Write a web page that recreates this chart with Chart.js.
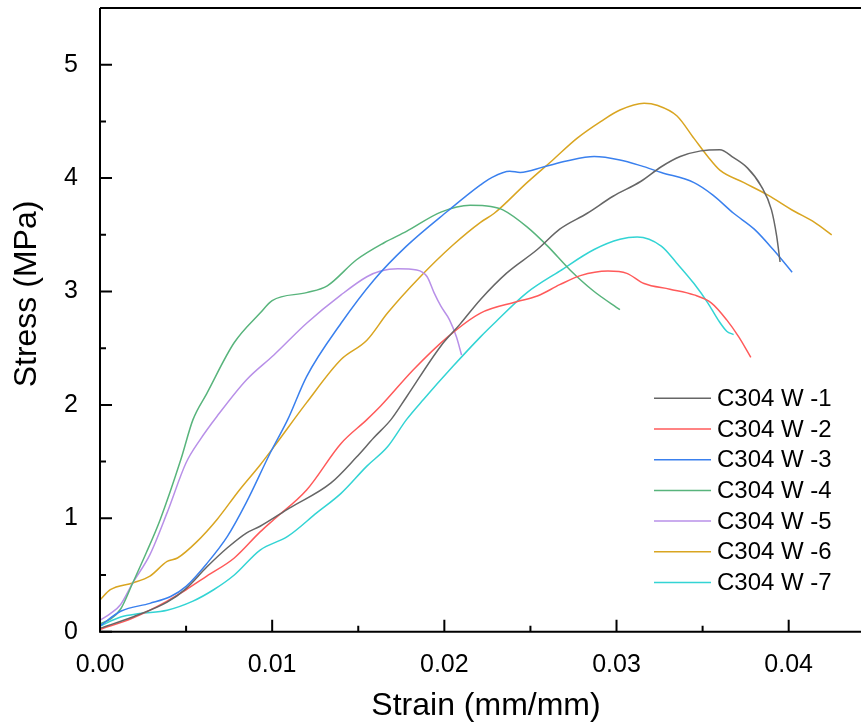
<!DOCTYPE html>
<html>
<head>
<meta charset="utf-8">
<title>Stress-strain C304 W</title>
<script src="https://cdn.jsdelivr.net/npm/chart.js@4.4.1/dist/chart.umd.min.js"></script>
<style>
  html, body { margin: 0; padding: 0; background: #fff; }
  #wrap { width: 861px; height: 724px; }
</style>
</head>
<body>
<div id="wrap"><canvas id="chart" width="861" height="724"></canvas></div>
<script>
// valeurs (strain en mm/mm, stress en MPa)
const seriesNames = ['C304 W -1', 'C304 W -2', 'C304 W -3', 'C304 W -4', 'C304 W -5', 'C304 W -6', 'C304 W -7'];
const seriesColors = ['#666666', '#ff5a5a', '#3a80ee', '#58b47c', '#b890e8', '#d9a521', '#33d4d4'];

const w1Strain = [0, 0.0019, 0.0039, 0.005, 0.0062, 0.0074, 0.0085, 0.0093, 0.011, 0.0134, 0.0149, 0.0159, 0.0169, 0.0178, 0.0198, 0.0209, 0.0221, 0.0236, 0.0254, 0.0267, 0.0283, 0.0298, 0.0314, 0.0326, 0.0337, 0.0349, 0.036, 0.0368, 0.0376, 0.0384, 0.039, 0.0393, 0.0395];
const w1Stress = [0.03, 0.13, 0.26, 0.38, 0.57, 0.74, 0.87, 0.93, 1.09, 1.31, 1.54, 1.71, 1.87, 2.07, 2.52, 2.71, 2.93, 3.16, 3.37, 3.55, 3.69, 3.84, 3.97, 4.10, 4.19, 4.24, 4.25, 4.18, 4.09, 3.93, 3.72, 3.49, 3.26];

const w2Strain = [0, 0.0019, 0.0039, 0.005, 0.0062, 0.0078, 0.0093, 0.0101, 0.012, 0.014, 0.0155, 0.0163, 0.0182, 0.0202, 0.0221, 0.0242, 0.0254, 0.0267, 0.0279, 0.0295, 0.0306, 0.0316, 0.0331, 0.0345, 0.0355, 0.0364, 0.0371, 0.0378];
const w2Stress = [0.02, 0.12, 0.27, 0.37, 0.49, 0.65, 0.88, 0.99, 1.25, 1.66, 1.87, 1.99, 2.31, 2.60, 2.81, 2.91, 2.96, 3.06, 3.14, 3.18, 3.16, 3.07, 3.02, 2.97, 2.90, 2.75, 2.60, 2.42];

const w3Strain = [0, 0.0012, 0.0029, 0.0041, 0.005, 0.0062, 0.0074, 0.0085, 0.0099, 0.0109, 0.012, 0.014, 0.0159, 0.0178, 0.0202, 0.0221, 0.0227, 0.0238, 0.0244, 0.0258, 0.0271, 0.0287, 0.0302, 0.0314, 0.0326, 0.0345, 0.0356, 0.0368, 0.038, 0.0391, 0.0402];
const w3Stress = [0.05, 0.18, 0.25, 0.31, 0.40, 0.60, 0.84, 1.14, 1.58, 1.87, 2.25, 2.72, 3.10, 3.40, 3.71, 3.94, 4.00, 4.06, 4.05, 4.10, 4.15, 4.19, 4.16, 4.11, 4.05, 3.96, 3.85, 3.69, 3.55, 3.37, 3.17];

const w4Strain = [0, 0.0006, 0.0012, 0.0019, 0.0027, 0.0035, 0.0047, 0.0054, 0.0062, 0.0078, 0.0093, 0.01, 0.012, 0.0132, 0.0149, 0.0165, 0.0178, 0.0198, 0.0215, 0.0227, 0.0234, 0.0248, 0.026, 0.0273, 0.0287, 0.0302];
const w4Stress = [0.07, 0.11, 0.2, 0.43, 0.7, 0.99, 1.52, 1.87, 2.1, 2.55, 2.81, 2.92, 2.99, 3.05, 3.28, 3.43, 3.53, 3.70, 3.76, 3.75, 3.72, 3.57, 3.40, 3.19, 3.0, 2.84];

const w5Strain = [0, 0.0006, 0.0012, 0.0019, 0.0029, 0.0039, 0.005, 0.0058, 0.0068, 0.0085, 0.0101, 0.012, 0.014, 0.0155, 0.0163, 0.0173, 0.0184, 0.019, 0.0194, 0.0198, 0.0203, 0.0207, 0.021];
const w5Stress = [0.1, 0.16, 0.24, 0.43, 0.68, 1.05, 1.49, 1.69, 1.9, 2.22, 2.44, 2.72, 2.97, 3.13, 3.18, 3.20, 3.19, 3.13, 2.99, 2.87, 2.75, 2.60, 2.44];

const w6Strain = [0, 0.0006, 0.0019, 0.0029, 0.0039, 0.0045, 0.0056, 0.0068, 0.0081, 0.0093, 0.0101, 0.012, 0.014, 0.0155, 0.0167, 0.0186, 0.0205, 0.0221, 0.0229, 0.0248, 0.0263, 0.0277, 0.0291, 0.0302, 0.0316, 0.0324, 0.0335, 0.0345, 0.0353, 0.036, 0.0374, 0.0388, 0.0403, 0.0415, 0.0425];
const w6Stress = [0.28, 0.37, 0.43, 0.49, 0.62, 0.65, 0.79, 0.99, 1.25, 1.47, 1.63, 2.02, 2.40, 2.57, 2.81, 3.13, 3.41, 3.61, 3.69, 3.96, 4.16, 4.35, 4.50, 4.60, 4.66, 4.64, 4.55, 4.35, 4.19, 4.07, 3.96, 3.85, 3.71, 3.61, 3.50];

const w7Strain = [0, 0.0012, 0.0023, 0.0039, 0.0054, 0.0066, 0.0078, 0.0093, 0.0109, 0.0126, 0.014, 0.0155, 0.0167, 0.0178, 0.0188, 0.0205, 0.0221, 0.0229, 0.0248, 0.0267, 0.0287, 0.0302, 0.0312, 0.0326, 0.0335, 0.0345, 0.0353, 0.0359, 0.0364, 0.0368];
const w7Stress = [0.05, 0.13, 0.16, 0.19, 0.27, 0.37, 0.50, 0.72, 0.84, 1.05, 1.22, 1.46, 1.63, 1.87, 2.05, 2.34, 2.60, 2.72, 2.99, 3.18, 3.37, 3.46, 3.48, 3.40, 3.25, 3.07, 2.90, 2.75, 2.65, 2.62];

const xTicks = [0, 0.01, 0.02, 0.03, 0.04];
const yTicks = [0, 1, 2, 3, 4, 5];
const xMinorStep = 0.005;
const yMinorStep = 0.5;

const FONT = '"Liberation Sans", Arial, sans-serif';

const strains = [w1Strain, w2Strain, w3Strain, w4Strain, w5Strain, w6Strain, w7Strain];
const stresses = [w1Stress, w2Stress, w3Stress, w4Stress, w5Stress, w6Stress, w7Stress];

const datasets = seriesNames.map((name, i) => ({
  label: name,
  data: strains[i].map((x, j) => ({ x: x, y: stresses[i][j] })),
  borderColor: seriesColors[i],
  backgroundColor: seriesColors[i],
  borderWidth: 1.5,
  pointRadius: 0,
  showLine: true,
  fill: false,
  cubicInterpolationMode: 'monotone'
}));

// cadre, graduations vers l'intérieur, titres d'axes et légende
const framePlugin = {
  id: 'frame',
  afterDraw(chart) {
    const ctx = chart.ctx;
    const a = chart.chartArea;
    const xs = chart.scales.x;
    const ys = chart.scales.y;
    ctx.save();
    ctx.strokeStyle = '#000';
    ctx.lineWidth = 2;
    ctx.beginPath();
    ctx.moveTo(a.left, a.top);
    ctx.lineTo(chart.width, a.top);
    ctx.moveTo(a.left, a.top);
    ctx.lineTo(a.left, a.bottom);
    ctx.lineTo(chart.width, a.bottom);
    ctx.stroke();

    // ticks x
    ctx.beginPath();
    for (let k = 0; k * xMinorStep <= xs.max + 1e-9; k++) {
      const px = xs.getPixelForValue(k * xMinorStep);
      const len = k % 2 === 0 ? 12 : 6;
      ctx.moveTo(px, a.bottom);
      ctx.lineTo(px, a.bottom - len);
    }
    // ticks y
    for (let k = 0; k * yMinorStep <= ys.max + 1e-9; k++) {
      const py = ys.getPixelForValue(k * yMinorStep);
      const len = k % 2 === 0 ? 12 : 6;
      ctx.moveTo(a.left, py);
      ctx.lineTo(a.left + len, py);
    }
    ctx.stroke();

    // titres
    ctx.fillStyle = '#000';
    ctx.font = '32px ' + FONT;
    ctx.textAlign = 'center';
    ctx.textBaseline = 'alphabetic';
    ctx.fillText('Strain (mm/mm)', 486, 715);
    ctx.save();
    ctx.translate(36, 294);
    ctx.rotate(-Math.PI / 2);
    ctx.fillText('Stress (MPa)', 0, 0);
    ctx.restore();

    // légende
    ctx.font = '24px ' + FONT;
    ctx.textAlign = 'left';
    ctx.textBaseline = 'middle';
    chart.data.datasets.forEach((ds, i) => {
      const y = 398.3 + i * 30.7;
      ctx.strokeStyle = ds.borderColor;
      ctx.lineWidth = 1.5;
      ctx.beginPath();
      ctx.moveTo(654, y);
      ctx.lineTo(711, y);
      ctx.stroke();
      ctx.fillStyle = '#000';
      ctx.fillText(ds.label, 717, y + 1);
    });
    ctx.restore();
  }
};

new Chart(document.getElementById('chart').getContext('2d'), {
  type: 'scatter',
  data: { datasets: datasets },
  options: {
    responsive: false,
    animation: false,
    events: [],
    layout: { padding: { top: 8, right: 0, left: 0, bottom: 0 } },
    plugins: {
      legend: { display: false },
      tooltip: { enabled: false }
    },
    scales: {
      x: {
        type: 'linear',
        min: 0,
        max: 0.0442,
        grid: { display: false },
        border: { display: false },
        afterBuildTicks: (s) => { s.ticks = xTicks.map(v => ({ value: v })); },
        afterFit: (s) => { s.height = 92.3; s.paddingLeft = 0; s.paddingRight = 0; },
        ticks: {
          color: '#000',
          padding: 10,
          maxRotation: 0,
          autoSkip: false,
          font: { size: 25, family: FONT },
          callback: (v) => Number(v).toFixed(2)
        }
      },
      y: {
        type: 'linear',
        min: 0,
        max: 5.5,
        grid: { display: false },
        border: { display: false },
        afterBuildTicks: (s) => { s.ticks = yTicks.map(v => ({ value: v })); },
        afterFit: (s) => { s.width = 100; s.paddingTop = 0; s.paddingBottom = 0; },
        ticks: {
          color: '#000',
          padding: 14,
          font: { size: 25, family: FONT },
          callback: (v) => String(v)
        }
      }
    }
  },
  plugins: [framePlugin]
});
</script>
</body>
</html>
